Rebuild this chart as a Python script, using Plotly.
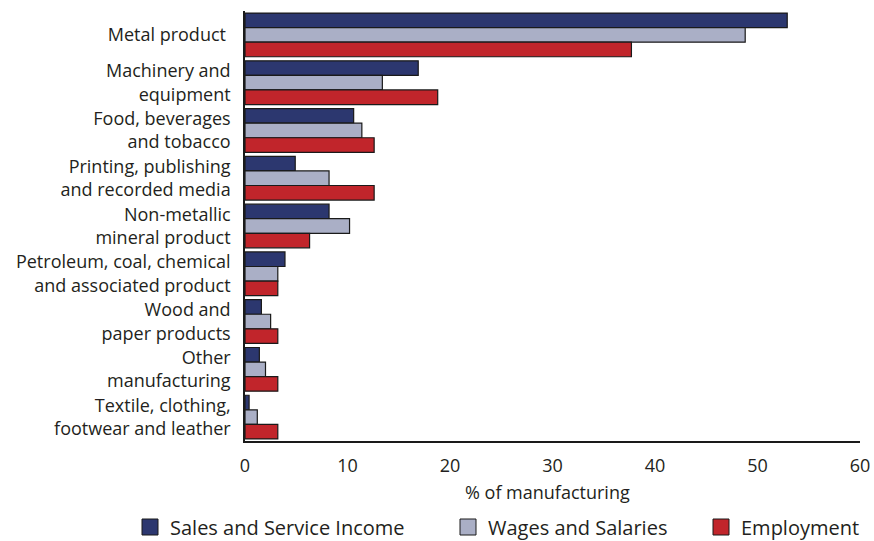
import plotly.graph_objects as go

categories = [
    "Metal product ",
    "Machinery and<br>equipment",
    "Food, beverages<br>and tobacco",
    "Printing, publishing<br>and recorded media",
    "Non-metallic<br>mineral product",
    "Petroleum, coal, chemical<br>and associated product",
    "Wood and<br>paper products",
    "Other<br>manufacturing",
    "Textile, clothing,<br>footwear and leather",
]
sales = [52.9, 16.9, 10.6, 4.9, 8.2, 3.9, 1.6, 1.4, 0.4]
wages = [48.8, 13.4, 11.4, 8.2, 10.2, 3.2, 2.5, 2.0, 1.2]
employment = [37.7, 18.8, 12.6, 12.6, 6.3, 3.2, 3.2, 3.2, 3.2]
series_names = ["Sales and Service Income", "Wages and Salaries", "Employment"]
colors = ["#2c376f", "#aaafc6", "#c1252b"]
x_ticks = [0, 10, 20, 30, 40, 50, 60]
x_title = "% of manufacturing"

FONT = "Open Sans"
TXT = "#231f20"
FS = 18
LFS = 20
W, H = 874, 541

legend_ids = ["legend", "legend2", "legend3"]
legend_x = [130, 448, 701]  # left edge of each legend entry, px

fig = go.Figure()
for name, vals, col, lid in zip(series_names, [sales, wages, employment], colors, legend_ids):
    fig.add_trace(go.Bar(
        y=categories, x=vals, name=name, orientation="h",
        marker=dict(color=col, line=dict(color="#1a1a1a", width=1.2)),
        showlegend=False,
    ))
    fig.add_trace(go.Scatter(
        x=[None], y=[None], mode="markers", name=name, legend=lid,
        marker=dict(symbol="square", size=20, color=col,
                    line=dict(color="#1a1a1a", width=1)),
        showlegend=True,
    ))

legend_common = dict(orientation="h", xref="container", xanchor="left",
                     yref="container", y=14 / H, yanchor="middle",
                     font=dict(size=LFS, color=TXT), itemsizing="trace",
                     itemwidth=30, bgcolor="rgba(0,0,0,0)")

fig.update_layout(
    width=W, height=H,
    margin=dict(l=245, r=14, t=11, b=100, autoexpand=False),
    paper_bgcolor="white", plot_bgcolor="white",
    barmode="group", bargap=0.085, bargroupgap=0,
    font=dict(family=FONT, size=FS, color=TXT),
    legend=dict(x=legend_x[0] / W, **legend_common),
    legend2=dict(x=legend_x[1] / W, **legend_common),
    legend3=dict(x=legend_x[2] / W, **legend_common),
    xaxis=dict(range=[0, 60], tickvals=x_ticks, ticks="", showgrid=False,
               zeroline=False, showline=True, linecolor="#1a1a1a", linewidth=1.5,
               automargin=False, ticklabeloverflow="allow",
               tickfont=dict(size=FS, color=TXT), ticklabelstandoff=8),
    yaxis=dict(autorange="reversed", ticks="", showgrid=False, zeroline=False,
               showline=True, linecolor="#1a1a1a", linewidth=1.5,
               automargin=False,
               tickfont=dict(size=FS, color=TXT), ticklabelstandoff=9),
    annotations=[dict(text=x_title, xref="paper", yref="paper", x=0.492, y=0,
                      yshift=-51, xanchor="center", yanchor="middle",
                      showarrow=False, font=dict(size=FS, color=TXT))],
)

fig.write_html(
    "out.html",
    config={"displayModeBar": False},
    post_script="document.body.style.margin='0px';"
                "document.body.style.overflow='hidden';"
                "document.documentElement.style.overflow='hidden';",
)
